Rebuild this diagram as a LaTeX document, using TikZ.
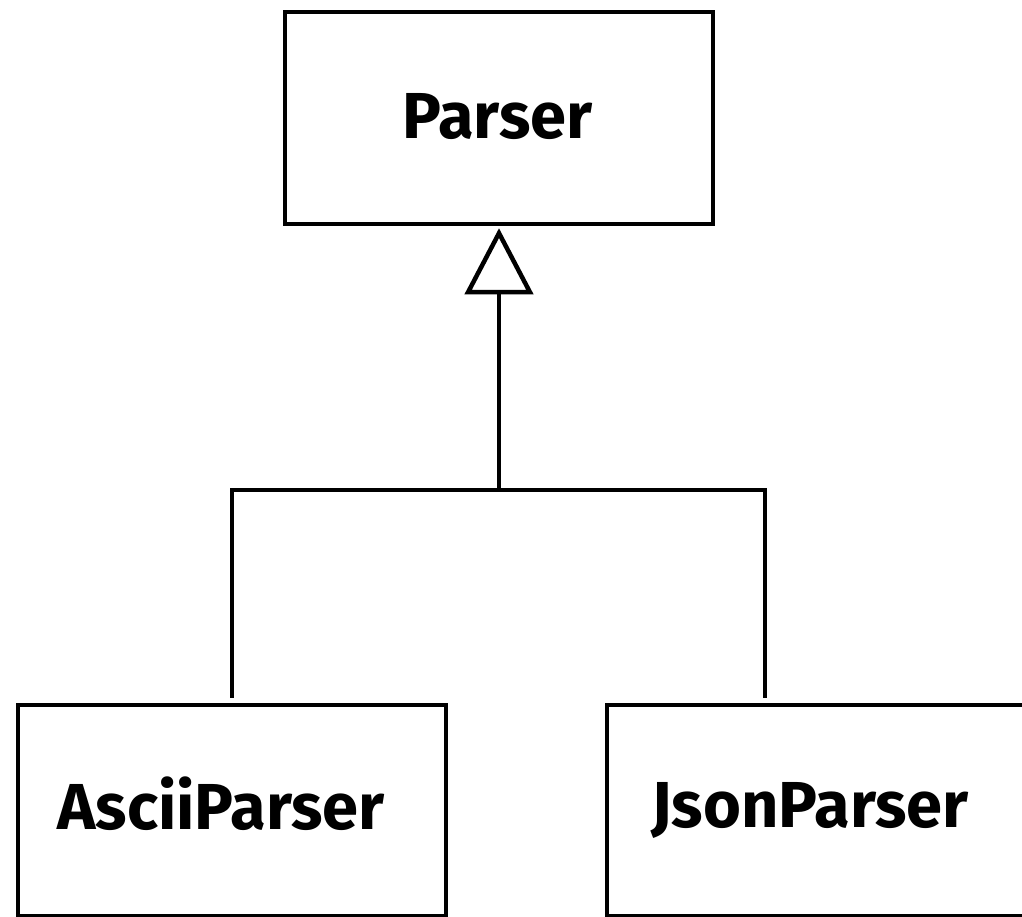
\documentclass[tikz,border=0pt]{standalone}
\usepackage{fontspec}
\setmainfont{Fira Sans}
\usetikzlibrary{arrows.meta,calc}
\begin{document}
\begin{tikzpicture}[x=1pt,y=-1pt,
  cls/.style={draw, line width=4.5pt, rectangle, minimum width=428pt, minimum height=212pt, inner sep=0pt, font=\fontsize{65}{70}\selectfont\bfseries},
  conn/.style={line width=4.5pt}]
\useasboundingbox (0,0) rectangle (1022,917);
\clip (0,0) rectangle (1022,917);
\fill[white] (0,0) rectangle (1022,917);
\node[cls] (parser) at (499,118) {Parser\hspace*{3pt}\rule[-4pt]{0pt}{0pt}};
\node[cls, minimum height=211pt] (ascii) at (232,810.5) {AsciiParser\hspace*{22pt}\rule[-14pt]{0pt}{0pt}};
\node[cls, minimum height=211pt] (json) at (821,810.5) {JsonParser\hspace*{22pt}};
\coordinate (j) at (499,490);
\coordinate (jr) at ($(json.north west)+(160,0)$);
\draw[conn, -{Triangle[open, length=66pt 0, width=68pt 0]}, shorten >=2pt] (j) -- (parser.south);
\draw[conn, shorten <=5pt, shorten >=5pt] (ascii.north) |- (j) -| (jr);
\end{tikzpicture}
\end{document}
